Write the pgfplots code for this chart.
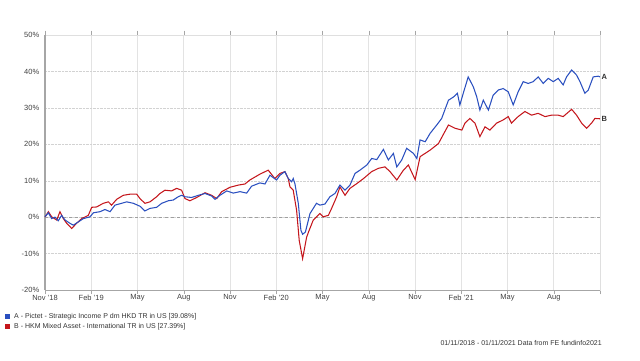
\documentclass[border=0pt]{standalone}
\usepackage{pgfplots}
\pgfplotsset{compat=1.18}
\usepackage{fontspec}
\setmainfont{Liberation Sans}
\definecolor{serA}{HTML}{2A4FBF}
\definecolor{serB}{HTML}{C4161C}
\begin{document}
\begin{tikzpicture}[x=1pt,y=1pt]
\path[use as bounding box] (0,0) rectangle (640,360);
\begin{axis}[
  at={(45pt,70pt)}, anchor=south west,
  scale only axis, width=555pt, height=255pt,
  xmin=0, xmax=36, ymin=-20, ymax=50,
  axis line style={draw=gray!25},
  xtick={0,3,6,9,12,15,18,21,24,27,30,33,36},
  xticklabels={Nov '18,Feb '19,May,Aug,Nov,Feb '20,May,Aug,Nov,Feb '21,May,Aug,},
  ytick={-20,-10,0,10,20,30,40,50},
  yticklabels={-20\%,-10\%,0\%,10\%,20\%,30\%,40\%,50\%},
  tick label style={font=\fontsize{7.5}{8}\selectfont, text=black!75},
  xtick style={draw=gray!70, thin},
  x tick label style={yshift=3pt},
  ytick style={draw=none},
  tick align=outside,
  y tick label style={xshift=2pt},
  xmajorgrids, ymajorgrids,
  x grid style={draw=gray!22, line width=0.8pt},
  y grid style={draw=gray!35, densely dotted},
  clip=false,
]
\draw[gray!75, dashed, line width=0.7pt] (axis cs:0,0) -- (axis cs:36,0);
\draw[gray!70, line width=1.6pt] (rel axis cs:0,0) -- (rel axis cs:0,1);
\draw[gray!70, line width=0.8pt] (rel axis cs:0,0) -- (rel axis cs:1,0);
% Series B (red)
\addplot[serB, line width=1.05pt] coordinates {
(0,0) (0.22,1.5) (0.43,0.1) (0.76,-0.8) (0.97,1.5) (1.19,-0.4) (1.41,-1.7)
(1.73,-3.1) (2.05,-1.7) (2.38,-0.4) (2.81,0.5) (3.03,2.7) (3.35,2.8) (3.78,3.8)
(4.11,4.2) (4.32,3.3) (4.65,4.9) (5.08,6.0) (5.51,6.3) (5.95,6.3) (6.16,5.1)
(6.48,3.8) (6.81,4.2) (7.24,5.6) (7.46,6.5) (7.78,7.4) (8.21,7.2) (8.54,7.9)
(8.86,7.4) (9.08,5.1) (9.40,4.5) (9.84,5.4) (10.38,6.7) (10.81,6.0) (11.14,5.1)
(11.46,7.0) (12.00,8.2) (12.54,8.8) (12.97,9.1) (13.29,10.2) (13.94,11.8)
(14.48,12.9) (14.91,10.6) (15.24,12.0) (15.56,12.5) (15.78,10.6) (15.89,8.3)
(16.10,7.4) (16.32,1.9) (16.49,-6.4) (16.71,-11.4) (16.97,-5.5) (17.10,-4.0)
(17.40,-0.8) (17.83,1.0) (18.05,0.1) (18.38,0.5) (18.59,2.4) (18.92,5.6)
(19.13,8.3) (19.46,6.0) (19.78,7.9) (20.22,9.2) (20.66,10.6) (21.19,12.5)
(21.62,13.4) (22.05,13.8) (22.38,12.5) (22.82,10.2) (23.25,12.9) (23.57,14.3)
(24.01,10.3) (24.33,16.6) (24.98,18.4) (25.52,20.2) (26.17,25.3) (26.60,24.4)
(27.04,23.9) (27.24,25.8) (27.56,27.1) (27.89,25.8) (28.21,22.1) (28.54,24.8)
(28.86,23.9) (29.29,25.8) (29.72,26.7) (30.05,27.6) (30.26,25.8) (30.69,27.6)
(31.13,29.0) (31.56,28.0) (31.99,28.5) (32.43,27.6) (32.86,28.0) (33.29,28.0)
(33.61,27.6) (34.16,29.6) (34.48,28.0) (34.81,25.8) (35.13,24.4) (35.45,25.8)
(35.67,27.1) (36.00,27.0)
};
% Series A (blue)
\addplot[serA, line width=1.05pt] coordinates {
(0,0.1) (0.22,1.2) (0.43,-0.4) (0.65,0.0) (0.86,-1.0) (1.08,0.5) (1.30,-0.8)
(1.62,-1.7) (1.84,-2.2) (2.16,-1.3) (2.49,-0.4) (2.92,0.1) (3.14,1.2) (3.57,1.5)
(3.89,2.1) (4.22,1.5) (4.54,3.3) (4.97,3.8) (5.30,4.2) (5.73,3.8) (6.16,3.0)
(6.48,1.7) (6.81,2.4) (7.24,2.7) (7.57,3.8) (8.00,4.5) (8.32,4.7) (8.64,5.6)
(8.86,6.0) (9.08,5.6) (9.51,5.4) (9.95,6.0) (10.38,6.5) (10.81,5.8) (11.03,4.9)
(11.35,6.0) (11.79,7.2) (12.21,6.6) (12.65,7.0) (13.08,6.6) (13.40,8.5)
(13.94,9.4) (14.27,9.1) (14.59,11.5) (15.02,10.2) (15.24,11.5) (15.56,12.5)
(15.78,10.6) (16.00,9.7) (16.10,10.6) (16.21,9.2) (16.43,3.8) (16.60,-3.6)
(16.71,-4.7) (16.89,-4.1) (17.19,1.0) (17.61,3.8) (17.83,3.3) (18.16,3.6)
(18.48,5.6) (18.81,6.5) (19.13,8.8) (19.46,7.4) (19.78,8.8) (20.11,12.0)
(20.43,12.9) (20.87,14.3) (21.19,16.1) (21.52,15.8) (21.95,18.6) (22.27,15.7)
(22.60,17.5) (22.82,13.8) (23.14,15.7) (23.46,18.9) (23.90,17.5) (24.12,16.1)
(24.33,21.2) (24.66,20.7) (24.98,23.0) (25.41,25.3) (25.73,27.1) (26.17,32.1)
(26.50,33.0) (26.75,34.0) (26.91,30.8) (27.13,34.0) (27.45,38.5) (27.78,35.8)
(28.00,33.1) (28.21,29.4) (28.43,32.1) (28.76,29.4) (29.07,33.5) (29.40,34.9)
(29.72,35.3) (30.05,34.4) (30.37,30.8) (30.69,34.4) (31.02,37.2) (31.34,36.7)
(31.67,37.2) (31.99,38.5) (32.32,36.7) (32.64,38.1) (32.97,37.2) (33.29,38.1)
(33.61,36.3) (33.83,38.5) (34.16,40.4) (34.48,39.0) (34.70,37.2) (35.02,34.0)
(35.24,34.9) (35.56,38.5) (35.89,38.7) (36.00,38.5)
};
\node[anchor=west, font=\fontsize{7.5}{8}\selectfont\bfseries, text=black!80, inner sep=1.5pt] at (axis cs:36,38.5) {A};
\node[anchor=west, font=\fontsize{7.5}{8}\selectfont\bfseries, text=black!80, inner sep=1.5pt] at (axis cs:36,27.0) {B};
\end{axis}
\fill[serA] (5,41) rectangle (10,46);
\fill[serB] (5,31) rectangle (10,36);
\node[anchor=west, font=\fontsize{7}{8}\selectfont, text=black!80, inner sep=0pt] at (14,43.5) {A - Pictet - Strategic Income P dm HKD TR in US [39.08\%]};
\node[anchor=west, font=\fontsize{7}{8}\selectfont, text=black!80, inner sep=0pt] at (14,33.5) {B - HKM Mixed Asset - International TR in US [27.39\%]};
\node[anchor=east, font=\fontsize{7}{8}\selectfont, text=black!80, inner sep=0pt] at (602,17) {01/11/2018 - 01/11/2021 Data from FE fundinfo2021};
\end{tikzpicture}
\end{document}
